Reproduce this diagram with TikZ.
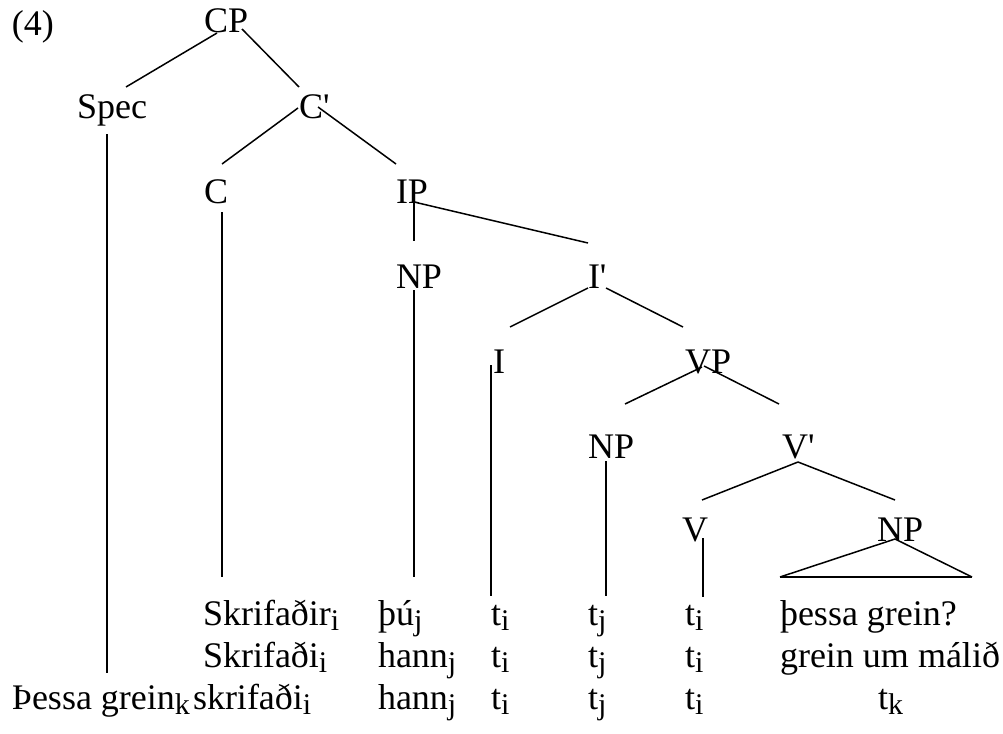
\documentclass[tikz,border=0pt]{standalone}
\usepackage{fontspec}
\setmainfont{Liberation Serif}
\newcommand{\subx}[1]{\raisebox{-5pt}{\fontsize{30}{30}\selectfont #1}}
\newcommand{\prm}{\XeTeXglyph\XeTeXglyphindex "quotesingle"\relax}
\tikzset{
  lbl/.style={anchor=base west, inner sep=0pt, outer sep=0pt, font=\fontsize{36}{43}\selectfont},
  edge/.style={line width=1.5pt},
  base/.style={line width=2.2pt}
}
\begin{document}
\begin{tikzpicture}[x=1pt,y=-1pt]
\useasboundingbox (0,0) rectangle (1003,733);
% labels
\node[lbl] (ex) at (12,36) {(4)};
\node[lbl] (CP) at (204,33) {CP};
\node[lbl] (Spec) at (77,118) {Spec};
\node[lbl] (Cb) at (299,118) {C\prm};
\node[lbl] (C) at (204,203) {C};
\node[lbl] (IP) at (396,203) {IP};
\node[lbl] (NPa) at (396,288) {NP};
\node[lbl] (Ib) at (588,288) {I\prm};
\node[lbl] (I) at (493,373) {I};
\node[lbl] (VP) at (685,373) {VP};
\node[lbl] (NPb) at (588,458) {NP};
\node[lbl] (Vb) at (782,458) {V\prm};
\node[lbl] (V) at (682,541) {V};
\node[lbl] (NPc) at (877,541) {NP};
% words, row 1
\node[lbl] (r1a) at (203,625) {Skrifaðir\subx{i}};
\node[lbl] (r1b) at (378,625) {þú\subx{j}};
\node[lbl] (r1c) at (491,625) {t\subx{i}};
\node[lbl] (r1d) at (588,625) {t\subx{j}};
\node[lbl] (r1e) at (685,625) {t\subx{i}};
\node[lbl] (r1f) at (780,625) {þessa grein?};
% row 2
\node[lbl] (r2a) at (203,667) {Skrifaði\subx{i}};
\node[lbl] (r2b) at (378,667) {hann\subx{j}};
\node[lbl] (r2c) at (491,667) {t\subx{i}};
\node[lbl] (r2d) at (588,667) {t\subx{j}};
\node[lbl] (r2e) at (685,667) {t\subx{i}};
\node[lbl] (r2f) at (780,667) {grein um málið};
% row 3
\node[lbl] (r3a) at (12,709) {Þessa grein\subx{k}};
\node[lbl] (r3b) at (193,709) {skrifaði\subx{i}};
\node[lbl] (r3c) at (378,709) {hann\subx{j}};
\node[lbl] (r3d) at (491,709) {t\subx{i}};
\node[lbl] (r3e) at (588,709) {t\subx{j}};
\node[lbl] (r3f) at (685,709) {t\subx{i}};
\node[lbl] (r3g) at (878,709) {t\subx{k}};
% connector end points
\coordinate (cp-l) at (217,33);  \coordinate (spec-t) at (126,87);
\coordinate (cp-r) at (242,29);  \coordinate (cb-t) at (299,87);
\coordinate (cb-l) at (298,108); \coordinate (c-t) at (222,164);
\coordinate (cb-r) at (318,107); \coordinate (ip-t) at (396,164);
\coordinate (ip-b) at (414,202); \coordinate (npa-t) at (414,241);
\coordinate (ib-t) at (588,243);
\coordinate (ib-l) at (588,288); \coordinate (i-t) at (510,327);
\coordinate (ib-r) at (606,288); \coordinate (vp-t) at (683,327);
\coordinate (vp-l) at (702,367); \coordinate (npb-t) at (625,404);
\coordinate (vp-r) at (704,366); \coordinate (vb-t) at (779,404);
\coordinate (vb-b) at (798,462); \coordinate (v-t) at (702,500);
\coordinate (npc-t) at (895,500);
\coordinate (tri-a) at (895,539); \coordinate (tri-l) at (780,577); \coordinate (tri-r) at (972,577);
\coordinate (spec-b) at (107,134); \coordinate (spec-e) at (107,673);
\coordinate (c-b) at (222,212);    \coordinate (c-e) at (222,577);
\coordinate (npa-b) at (414,290);  \coordinate (npa-e) at (414,577);
\coordinate (i-b) at (491,365);    \coordinate (i-e) at (491,596);
\coordinate (npb-b) at (606,461);  \coordinate (npb-e) at (606,596);
\coordinate (v-b) at (703,538);    \coordinate (v-e) at (703,597);
% connectors
\draw[edge] (cp-l) -- (spec-t);
\draw[edge] (cp-r) -- (cb-t);
\draw[edge] (cb-l) -- (c-t);
\draw[edge] (cb-r) -- (ip-t);
\draw[edge] (ip-b) -- (npa-t);
\draw[edge] (ip-b) -- (ib-t);
\draw[edge] (ib-l) -- (i-t);
\draw[edge] (ib-r) -- (vp-t);
\draw[edge] (vp-l) -- (npb-t);
\draw[edge] (vp-r) -- (vb-t);
\draw[edge] (vb-b) -- (v-t);
\draw[edge] (vb-b) -- (npc-t);
\draw[edge] (tri-l) -- (tri-a) -- (tri-r);
\draw[base] (tri-l) -- (tri-r);
\draw[edge] (spec-b) -- (spec-e);
\draw[edge] (c-b) -- (c-e);
\draw[edge] (npa-b) -- (npa-e);
\draw[edge] (i-b) -- (i-e);
\draw[edge] (npb-b) -- (npb-e);
\draw[edge] (v-b) -- (v-e);
\end{tikzpicture}
\end{document}
